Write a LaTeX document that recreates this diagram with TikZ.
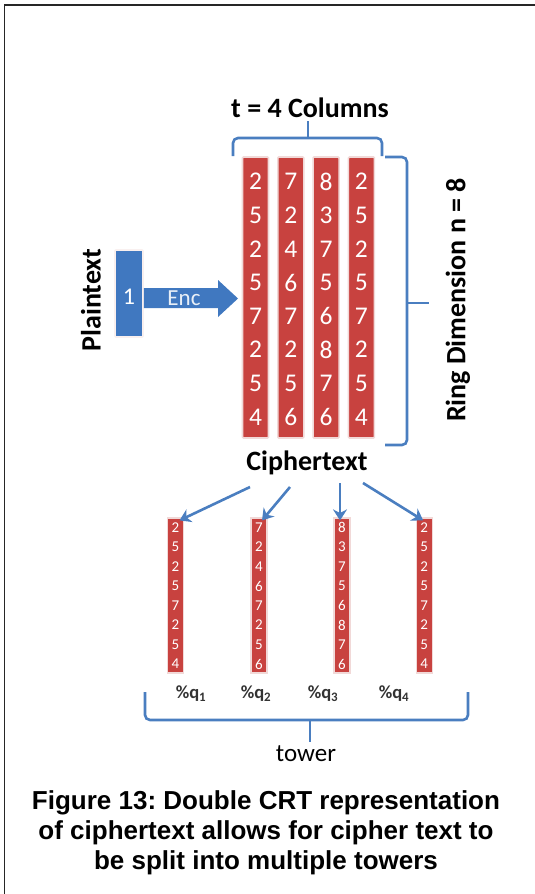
\documentclass[tikz,border=0pt]{standalone}
\usepackage{fontspec}
\setmainfont{Carlito}
\newfontfamily\capfont{Liberation Sans}
\usetikzlibrary{arrows.meta,calc}
\frenchspacing

\definecolor{cellred}{HTML}{C8423F}
\definecolor{cellrim}{HTML}{F1D9D8}
\definecolor{boxblue}{HTML}{4078C0}
\definecolor{linkblue}{HTML}{4A7EC0}

\tikzset{
  bigcol/.style={draw=cellrim, line width=1.6pt, fill=cellred, minimum width=26pt,
    minimum height=281pt, inner sep=0pt, rounded corners=1pt},
  smallcol/.style={draw=cellrim, line width=1.2pt, fill=cellred, minimum width=16pt,
    minimum height=155pt, inner sep=0pt},
  bigdigit/.style={text=white, font=\fontsize{25.5}{25.5}\selectfont, inner sep=0pt},
  smalldigit/.style={text=white, font=\fontsize{15}{15}\selectfont, inner sep=0pt},
  label/.style={font=\bfseries\fontsize{28}{28}\selectfont, inner sep=0pt},
  brace/.style={draw=linkblue, line width=2.6pt, rounded corners=5pt},
  link/.style={draw=linkblue, line width=2.6pt, -{Stealth[length=11pt,width=14pt]}},
  modlabel/.style={font=\bfseries\fontsize{18.5}{18.5}\selectfont, text=black!80, inner sep=0pt},
}

\begin{document}
\begin{tikzpicture}[x=1pt, y=-1pt]
  \useasboundingbox (0,0) rectangle (535,894);
  \fill[white] (0,0) rectangle (535,894);
  % frame
  \draw[line width=1.6pt, black!85] (4.5,894) -- (4.5,5) -- (535,5);

  % plaintext block
  \node[draw=cellrim!40!white, line width=1.6pt, fill=boxblue, minimum width=28pt,
        minimum height=87pt, inner sep=0pt, rounded corners=1pt] (pt) at (129,293.5) {};
  \node[text=white, font=\fontsize{24}{24}\selectfont, inner sep=0pt] (one) at (129,297) {1};
  \node[label, rotate=90] (ptlabel) at (91,300) {Plaintext};

  % encryption arrow
  \fill[boxblue] ($(pt.east)+(0,-5.5)$) -- (218,288) -- (218,280) -- (238,298.5)
     -- (218,317) -- (218,308) -- ($(pt.east)+(0,14.5)$) -- cycle;
  \node[text=white!88!boxblue, font=\fontsize{23}{23}\selectfont, inner sep=0pt] (enc) at (184,298) {Enc};

  % ciphertext columns
  \foreach \i/\x/\vals in {1/255.5/{2,5,2,5,7,2,5,4},
                           2/290.8/{7,2,4,6,7,2,5,6},
                           3/326.1/{8,3,7,5,6,8,7,6},
                           4/361.4/{2,5,2,5,7,2,5,4}} {
    \node[bigcol] (c\i) at (\x,297.5) {};
    \foreach \v [count=\k from 0] in \vals {
      \node[bigdigit] (c\i d\k) at (\x,{181.7+33.6*\k}) {\v};
    }
  }

  % brace over the columns
  \node[label] (cols) at (310,108) {t = 4 Columns};
  \draw[brace] (233,156) -- (233,138) -- (382,138) -- (382,156);
  \draw[brace] (308,138) -- (308,121);

  % brace beside the columns
  \draw[brace] (385,157) -- (407,157) -- (407,445) -- (385,445);
  \draw[brace] (407,303) -- (429,303);
  \node[label, rotate=90] (ring) at (458,300) {Ring Dimension n = 8};

  \node[label] (ct) at (307,463) {Ciphertext};

  % towers
  \foreach \i/\x/\vals in {1/175.5/{2,5,2,5,7,2,5,4},
                           2/259.0/{7,2,4,6,7,2,5,6},
                           3/342.0/{8,3,7,5,6,8,7,6},
                           4/424.2/{2,5,2,5,7,2,5,4}} {
    \node[smallcol] (t\i) at (\x,595.5) {};
    \foreach \v [count=\k from 0] in \vals {
      \node[smalldigit] (t\i d\k) at (\x,{527.5+19.5*\k}) {\v};
    }
  }

  % splitting arrows
  \coordinate (s1) at (250,487);
  \coordinate (s2) at (290,487);
  \coordinate (s3) at (340,483);
  \coordinate (s4) at (363,483);
  \draw[link] (s1) -- ([xshift=4pt,yshift=-3pt]t1.north);
  \draw[link] (s2) -- ([xshift=3pt,yshift=-3pt]t2.north);
  \draw[link] (s3) -- ([xshift=-2pt,yshift=-3pt]t3.north);
  \draw[link] (s4) -- ([xshift=-1pt,yshift=-3pt]t4.north);

  % moduli
  \node[modlabel] (q1) at (191,694) {\%q\textsubscript{1}};
  \node[modlabel] (q2) at (256,694) {\%q\textsubscript{2}};
  \node[modlabel] (q3) at (323,694) {\%q\textsubscript{3}};
  \node[modlabel] (q4) at (394,694) {\%q\textsubscript{4}};

  % tower brace
  \draw[brace] (145,692) -- (145,720) -- (468,720) -- (468,692);
  \draw[brace] (310,720) -- (310,742);
  \node[font=\fontsize{25}{25}\selectfont, inner sep=0pt] (tower) at (306,754) {tower};

  % caption
  \node[font=\capfont\bfseries\fontsize{26}{30}\selectfont, align=center, inner sep=0pt]
    (caption) at (266,833)
    {Figure 13: Double CRT representation\\of ciphertext allows for cipher text to\\be split into multiple towers};
\end{tikzpicture}
\end{document}
